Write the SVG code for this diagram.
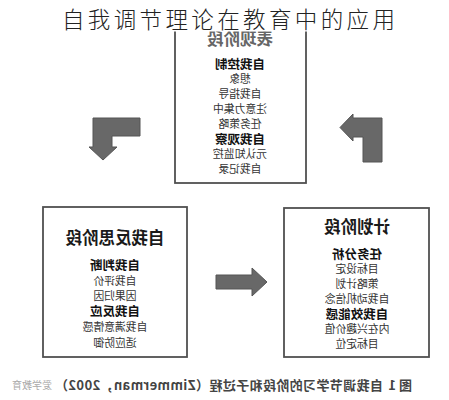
<svg xmlns="http://www.w3.org/2000/svg" width="449" height="400" viewBox="0 0 449 400">
<style>
.box{fill:#fff;stroke:#505050;stroke-width:1.8}
.arr{fill:#686868;stroke:#555;stroke-width:1}
text{font-family:"Noto Sans CJK SC","Noto Sans",sans-serif;text-anchor:middle;dominant-baseline:central}
.hd{font-size:16.5px;font-weight:bold;fill:#1a1a1a}
.b{font-size:12.5px;font-weight:bold;fill:#111}
.r{font-size:10.8px;fill:#333}
.cap{font-size:13px;font-weight:bold;fill:#444;text-anchor:start}
.wm{font-size:10px;fill:#aaa;text-anchor:start}
.title{font-size:22.5px;font-weight:300;fill:#222;dominant-baseline:auto}
</style>
<rect width="449" height="400" fill="#fff"/>
<g transform="matrix(-1 0 0 1 449 0)">
  <g id="performance">
    <rect class="box" x="143" y="20" width="131" height="163"/>
    <text class="hd" x="209" y="38" style="fill:#666">表现阶段</text>
    <text class="b" x="209" y="63">自我控制</text>
    <text class="r" x="209" y="78">想象</text>
    <text class="r" x="209" y="93">自我指导</text>
    <text class="r" x="209" y="108">注意力集中</text>
    <text class="r" x="209" y="123">任务策略</text>
    <text class="b" x="209" y="138">自我观察</text>
    <text class="r" x="209" y="153">元认知监控</text>
    <text class="r" x="209" y="168">自我记录</text>
  </g>
  <g id="planning">
    <rect class="box" x="20" y="208" width="145" height="149"/>
    <text class="hd" x="92" y="226">计划阶段</text>
    <text class="b" x="92" y="253">任务分析</text>
    <text class="r" x="92" y="268">目标设定</text>
    <text class="r" x="92" y="283">策略计划</text>
    <text class="r" x="92" y="298">自我动机信念</text>
    <text class="b" x="92" y="313">自我效能感</text>
    <text class="r" x="92" y="328">内在兴趣价值</text>
    <text class="r" x="92" y="343">目标定位</text>
  </g>
  <g id="reflection">
    <rect class="box" x="262" y="207" width="144" height="150"/>
    <text class="hd" x="334" y="237">自我反思阶段</text>
    <text class="b" x="334" y="264">自我判断</text>
    <text class="r" x="334" y="279.5">自我评价</text>
    <text class="r" x="334" y="295">因果归因</text>
    <text class="b" x="334" y="310.5">自我反应</text>
    <text class="r" x="334" y="326">自我满意情感</text>
    <text class="r" x="334" y="341.5">适应防御</text>
  </g>
  <g id="connectors">
    <polygon class="arr" points="67,118 67,162 86,162 86,137 96,137 96,141 109,127.5 96,114 96,118"/>
    <polygon class="arr" points="309,118 356,118 356,147 360,147 346,160 332,147 337,147 337,136 309,136"/>
    <polygon class="arr" points="233,275 197,275 197,268 182,282 197,296 197,289 233,289"/>
  </g>
  <g id="caption">
    <text class="cap" x="37" y="384">图 1</text>
    <text class="cap" x="66" y="384" textLength="328" lengthAdjust="spacing">自我调节学习的阶段和子过程（Zimmerman，2002）</text>
    <text class="wm" x="397" y="384">爱学教育</text>
  </g>
</g>
<rect x="0" y="0" width="449" height="31.5" fill="#fff"/>
<text class="title" x="228.5" y="27.5" textLength="333" lengthAdjust="spacing">自我调节理论在教育中的应用</text>
</svg>
